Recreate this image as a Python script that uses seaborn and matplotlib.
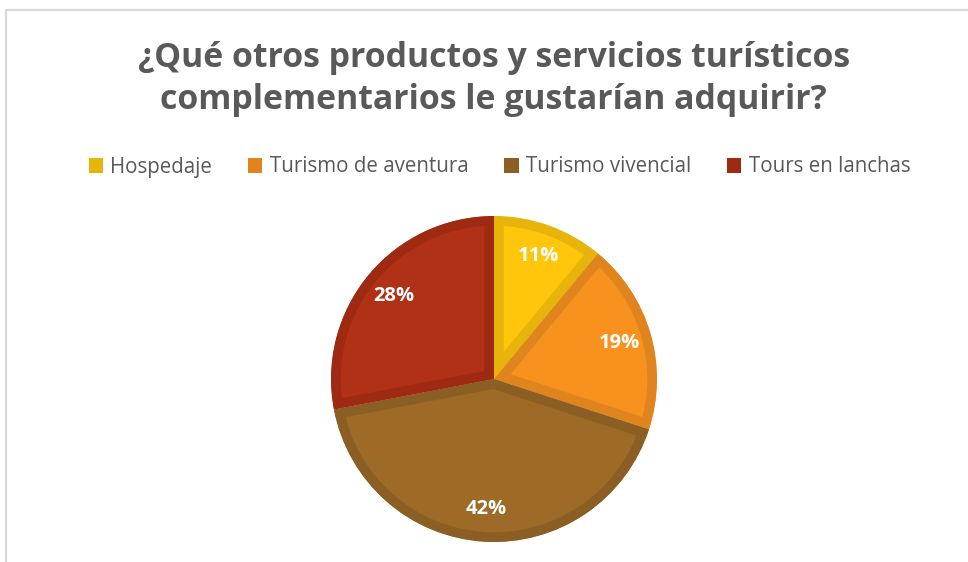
import matplotlib
matplotlib.use("Agg")
import matplotlib.pyplot as plt
from matplotlib.patches import Patch
from matplotlib.lines import Line2D
import seaborn as sns

# data
categories = ["Hospedaje", "Turismo de aventura", "Turismo vivencial", "Tours en lanchas"]
values = [11, 19, 42, 28]

fill_colors = ["#FFC60B", "#F7921E", "#9E6A28", "#B03116"]
edge_colors = ["#E6B40A", "#E0851E", "#8B5E24", "#9F2A12"]

title = "¿Qué otros productos y servicios turísticos\ncomplementarios le gustarían adquirir?"

sns.set_theme(style="white")
plt.rcParams["font.family"] = ["Open Sans", "DejaVu Sans"]

fig = plt.figure(figsize=(9.68, 5.62), dpi=100)

# chart frame (only top and left edges visible in the reference)
fig.add_artist(Line2D([6 / 968, 1.0], [1 - 10 / 562] * 2, color="#D9D9D9", lw=1.6))
fig.add_artist(Line2D([6 / 968] * 2, [0.0, 1 - 10 / 562], color="#D9D9D9", lw=1.6))

fig.text(0.51, 1 - 79 / 562, title, ha="center", va="center", fontsize=24.4,
         fontweight="bold", color="#595959", linespacing=1.32)

ax = fig.add_axes([331 / 968, 20 / 562, 326 / 968, 326 / 562])
wedges, texts, autotexts = ax.pie(
    values, colors=fill_colors, startangle=90, counterclock=False,
    autopct=lambda p: f"{p:.0f}%", pctdistance=0.8, radius=1,
    textprops=dict(color="white", fontsize=14.5, fontweight="bold"),
)
# inner stroke: draw the edge and clip it to the wedge itself
for w, ec in zip(wedges, edge_colors):
    w.set_edgecolor(ec)
    w.set_linewidth(14)
    w.set_clip_on(True)
    w.set_clip_path(w)
ax.set_xlim(-1, 1)
ax.set_ylim(-1, 1)
ax.set_aspect("equal")
ax.axis("off")

handles = [Patch(facecolor=c, edgecolor="none") for c in edge_colors]
fig.legend(handles, categories, loc="center", bbox_to_anchor=(0.516, 1 - 167 / 562),
           ncol=4, frameon=False, fontsize=14.8, handlelength=0.7, handleheight=0.7,
           handletextpad=0.35, columnspacing=1.75, labelcolor="#595959")

fig.savefig("out.png", dpi=100, facecolor="white")
